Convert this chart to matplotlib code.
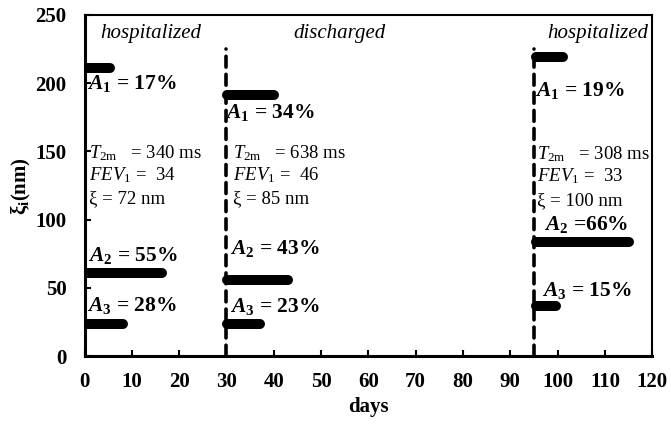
import matplotlib
matplotlib.use("Agg")
import matplotlib.pyplot as plt

plt.rcParams['font.family'] = ['Liberation Serif', 'DejaVu Serif']
plt.rcParams['mathtext.fontset'] = 'custom'
plt.rcParams['mathtext.rm'] = 'Liberation Serif'
plt.rcParams['mathtext.it'] = 'Liberation Serif:italic'
plt.rcParams['mathtext.bf'] = 'Liberation Serif:bold'
plt.rcParams['mathtext.bfit'] = 'Liberation Serif:bold:italic'

# ---- data ----
x_ticks = [0, 10, 20, 30, 40, 50, 60, 70, 80, 90, 100, 110, 120]
y_ticks = [0, 50, 100, 150, 200, 250]
phase_lines = [30, 95]
phase_labels = ["hospitalized", "discharged", "hospitalized"]
phase_label_x = [14.1, 53.9, 108.5]

# bars: (start_day, end_day, xi_nm)
bar_start = [0, 0, 0, 30.1, 30.1, 30.1, 95.5, 95.5, 95.5]
bar_end = [5.4, 16.4, 8.1, 40.1, 43.0, 37.0, 101.1, 115.0, 99.6]
bar_xi = [211, 61, 23.6, 191, 56, 23.6, 219, 84, 36.6]

amp_labels = [r"$\mathbfit{A}_{\mathbf{1}}$ = 17%", r"$\mathbfit{A}_{\mathbf{2}}$ = 55%",
              r"$\mathbfit{A}_{\mathbf{3}}$ = 28%",
              r"$\mathbfit{A}_{\mathbf{1}}$ = 34%", r"$\mathbfit{A}_{\mathbf{2}}$ = 43%",
              r"$\mathbfit{A}_{\mathbf{3}}$ = 23%",
              r"$\mathbfit{A}_{\mathbf{1}}$ = 19%", r"$\mathbfit{A}_{\mathbf{2}}$ =66%",
              r"$\mathbfit{A}_{\mathbf{3}}$ = 15%"]
amp_x = [0.5, 0.7, 0.5, 29.6, 30.8, 30.8, 95.2, 97.1, 96.6]
amp_y = [195.5, 69.5, 33, 174.4, 75, 32.4, 190.5, 92.2, 44]

t2m = [340, 638, 308]
fev1 = [34, 46, 33]
xi_mean = [72, 85, 100]
info_x = [0.9, 31.4, 95.6]
info_y = [[144.9, 129.1, 112.2], [144.9, 129.1, 112.2], [144.4, 127.8, 110.8]]

fig = plt.figure(figsize=(6.71, 4.24), dpi=100)
ax = fig.add_axes([0.126, 0.1597, 0.846, 0.8053])
ax.set_xlim(0, 120)
ax.set_ylim(0, 250)

for xv in phase_lines:
    ax.plot([xv, xv], [0, 225], color='black', lw=2.6, dashes=(3, 2),
            dash_capstyle='round', zorder=2)

for s, e, y in zip(bar_start, bar_end, bar_xi):
    ax.plot([s, e], [y, y], color='black', lw=7.2, solid_capstyle='round', zorder=3)

for lbl, x in zip(phase_labels, phase_label_x):
    ax.text(x, 236.7, lbl, style='italic', fontsize=15, ha='center', va='center')

for lbl, x, y in zip(amp_labels, amp_x, amp_y):
    ax.text(x, y, lbl, fontsize=15.5, fontweight='bold', ha='left', va='baseline', zorder=4)

for i in range(3):
    ys = info_y[i]
    ax.text(info_x[i], ys[0], r"$T_{\mathrm{2m}}$   = %d ms" % t2m[i], fontsize=13.5,
            ha='left', va='baseline')
    ax.text(info_x[i], ys[1], r"$FEV_{1}$ =  %d" % fev1[i], fontsize=13.5,
            ha='left', va='baseline')
    ax.text(info_x[i], ys[2], "ξ = %d nm" % xi_mean[i], fontsize=13.5,
            ha='left', va='baseline')

ax.set_xticks(x_ticks)
ax.set_yticks(y_ticks)
ax.set_xticklabels([str(v) for v in x_ticks], fontweight='bold', fontsize=15)
ax.set_yticklabels([str(v) for v in y_ticks], fontweight='bold', fontsize=15)
ax.tick_params(direction='in', length=4, width=1.5)
ax.tick_params(axis='x', pad=11)
ax.tick_params(axis='y', pad=13)
ax.spines['left'].set_linewidth(2.2)
ax.spines['bottom'].set_linewidth(2.2)
ax.spines['top'].set_linewidth(1.5)
ax.spines['right'].set_linewidth(1.5)

ax.set_xlabel("days", fontweight='bold', fontsize=15, labelpad=4)
ax.set_ylabel(r"$\mathbf{\xi_i}$(nm)", fontweight='bold', fontsize=15, labelpad=2)

fig.savefig("out.png", dpi=100)
